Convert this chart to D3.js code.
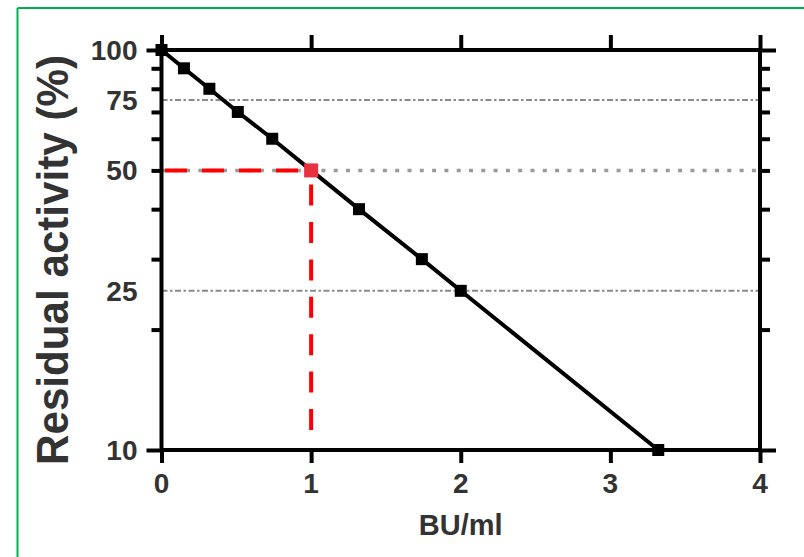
<!DOCTYPE html>
<html>
<head>
<meta charset="utf-8">
<script src="https://cdn.jsdelivr.net/npm/d3@7"></script>
<style>
  html, body { margin: 0; padding: 0; background: #fff; }
  text { font-family: "Liberation Sans", Arial, sans-serif; font-weight: bold; fill: #333; }
</style>
</head>
<body>
<div id="chart"></div>
<script>
// ==== Data ====
const doses    = [0, 0.15, 0.32, 0.51, 0.74, 1, 1.32, 1.74, 2, 3.32];   // BU/ml
const activity = [100, 90, 80, 70, 60, 50, 40, 30, 25, 10];           // residual activity (%)
const xTicks = [0, 1, 2, 3, 4];
const yLabelTicks = [10, 25, 50, 75, 100];
const yMinorTicks = [20, 30, 40, 50, 60, 70, 80, 90];
const yMajorTicks = [10, 100];
const refLevels = [75, 50, 25];
const halfDose = 1, halfActivity = 50;

(function () {
  const W = 804, H = 557;
  const svg = d3.select("#chart").append("svg")
    .attr("width", W).attr("height", H);

  // green frame (top + left)
  svg.append("line").attr("x1", 17.5).attr("y1", 8).attr("x2", W).attr("y2", 8)
    .attr("stroke", "#00b050").attr("stroke-width", 2);
  svg.append("line").attr("x1", 17.5).attr("y1", 8).attr("x2", 17.5).attr("y2", H)
    .attr("stroke", "#00b050").attr("stroke-width", 2);

  const x = d3.scaleLinear().domain([0, 4]).range([161.5, 760]);
  const y = d3.scaleLog().domain([10, 100]).range([450, 50]);
  const [x0, x1] = x.range();
  const [yb, yt] = y.range();
  const axisW = 4;

  // ==== reference lines ====
  const refDash = { 75: "6,2.5,2.5,2.5", 50: "4,8.3", 25: "6,2.5,2.5,2.5" };
  svg.selectAll(".ref").data(refLevels).enter().append("line")
    .attr("x1", x0).attr("x2", x1)
    .attr("y1", d => y(d)).attr("y2", d => y(d))
    .attr("stroke", d => d === 50 ? "#9a9a9a" : "#8a8a8a")
    .attr("stroke-width", d => d === 50 ? 3.5 : 2)
    .attr("stroke-dasharray", d => refDash[d]);

  // red dashed guides
  svg.append("line")
    .attr("x1", x0 + 3.5).attr("x2", x(halfDose))
    .attr("y1", y(halfActivity)).attr("y2", y(halfActivity))
    .attr("stroke", "#ff0000").attr("stroke-width", 4)
    .attr("stroke-dasharray", "22,15");
  svg.append("line")
    .attr("x1", x(halfDose)).attr("x2", x(halfDose))
    .attr("y1", 430).attr("y2", y(halfActivity))
    .attr("stroke", "#ff0000").attr("stroke-width", 4)
    .attr("stroke-dasharray", "21,16.4");

  // ==== axes (ticks) ====
  function styleAxis(g) {
    g.select(".domain").remove();
    g.selectAll("line").attr("stroke", "#000").attr("stroke-width", axisW);
    g.selectAll("text").remove();
  }
  // left
  svg.append("g").attr("transform", `translate(${x0},0)`)
    .call(d3.axisLeft(y).tickValues(yMinorTicks).tickSize(10)).call(styleAxis);
  svg.append("g").attr("transform", `translate(${x0},0)`)
    .call(d3.axisLeft(y).tickValues(yMajorTicks).tickSize(15)).call(styleAxis);
  // right
  svg.append("g").attr("transform", `translate(${x1},0)`)
    .call(d3.axisRight(y).tickValues(yMinorTicks).tickSize(10)).call(styleAxis);
  svg.append("g").attr("transform", `translate(${x1},0)`)
    .call(d3.axisRight(y).tickValues(yMajorTicks).tickSize(16)).call(styleAxis);
  // bottom
  svg.append("g").attr("transform", `translate(0,${yb})`)
    .call(d3.axisBottom(x).tickValues(xTicks).tickSize(13)).call(styleAxis);
  // top
  svg.append("g").attr("transform", `translate(0,${yt})`)
    .call(d3.axisTop(x).tickValues(xTicks).tickSize(15)).call(styleAxis);

  // frame
  svg.append("rect")
    .attr("x", x0).attr("y", yt).attr("width", x1 - x0).attr("height", yb - yt)
    .attr("fill", "none").attr("stroke", "#000").attr("stroke-width", axisW);

  // tick labels
  svg.selectAll(".ylab").data(yLabelTicks).enter().append("text")
    .attr("x", x0 - 24).attr("y", d => y(d))
    .attr("dy", "0.36em").attr("text-anchor", "end")
    .style("font-size", "28px")
    .text(d => d);
  svg.selectAll(".xlab").data(xTicks).enter().append("text")
    .attr("x", d => x(d)).attr("y", yb + 43)
    .attr("text-anchor", "middle")
    .style("font-size", "28px")
    .text(d => d);

  // axis titles
  svg.append("text")
    .attr("x", x(2)).attr("y", 535)
    .attr("text-anchor", "middle")
    .style("font-size", "29px")
    .text("BU/ml");
  svg.append("text")
    .attr("transform", "translate(68,260) rotate(-90)")
    .attr("text-anchor", "middle")
    .attr("textLength", 410).attr("lengthAdjust", "spacingAndGlyphs")
    .style("font-size", "44px")
    .text("Residual activity (%)");

  // ==== data ====
  const pts = doses.map((d, i) => ({ dose: d, act: activity[i] }));
  svg.append("path").datum(pts)
    .attr("fill", "none").attr("stroke", "#000").attr("stroke-width", 4)
    .attr("d", d3.line().x(d => x(d.dose)).y(d => y(d.act)));

  svg.selectAll(".pt").data(pts).enter().append("rect")
    .attr("x", d => x(d.dose) - 6).attr("y", d => y(d.act) - 6)
    .attr("width", 12).attr("height", 12)
    .attr("fill", "#000");

  svg.append("rect")
    .attr("x", x(halfDose) - 7).attr("y", y(halfActivity) - 7)
    .attr("width", 14).attr("height", 14)
    .attr("fill", "#e8313f");
})();
</script>
</body>
</html>
